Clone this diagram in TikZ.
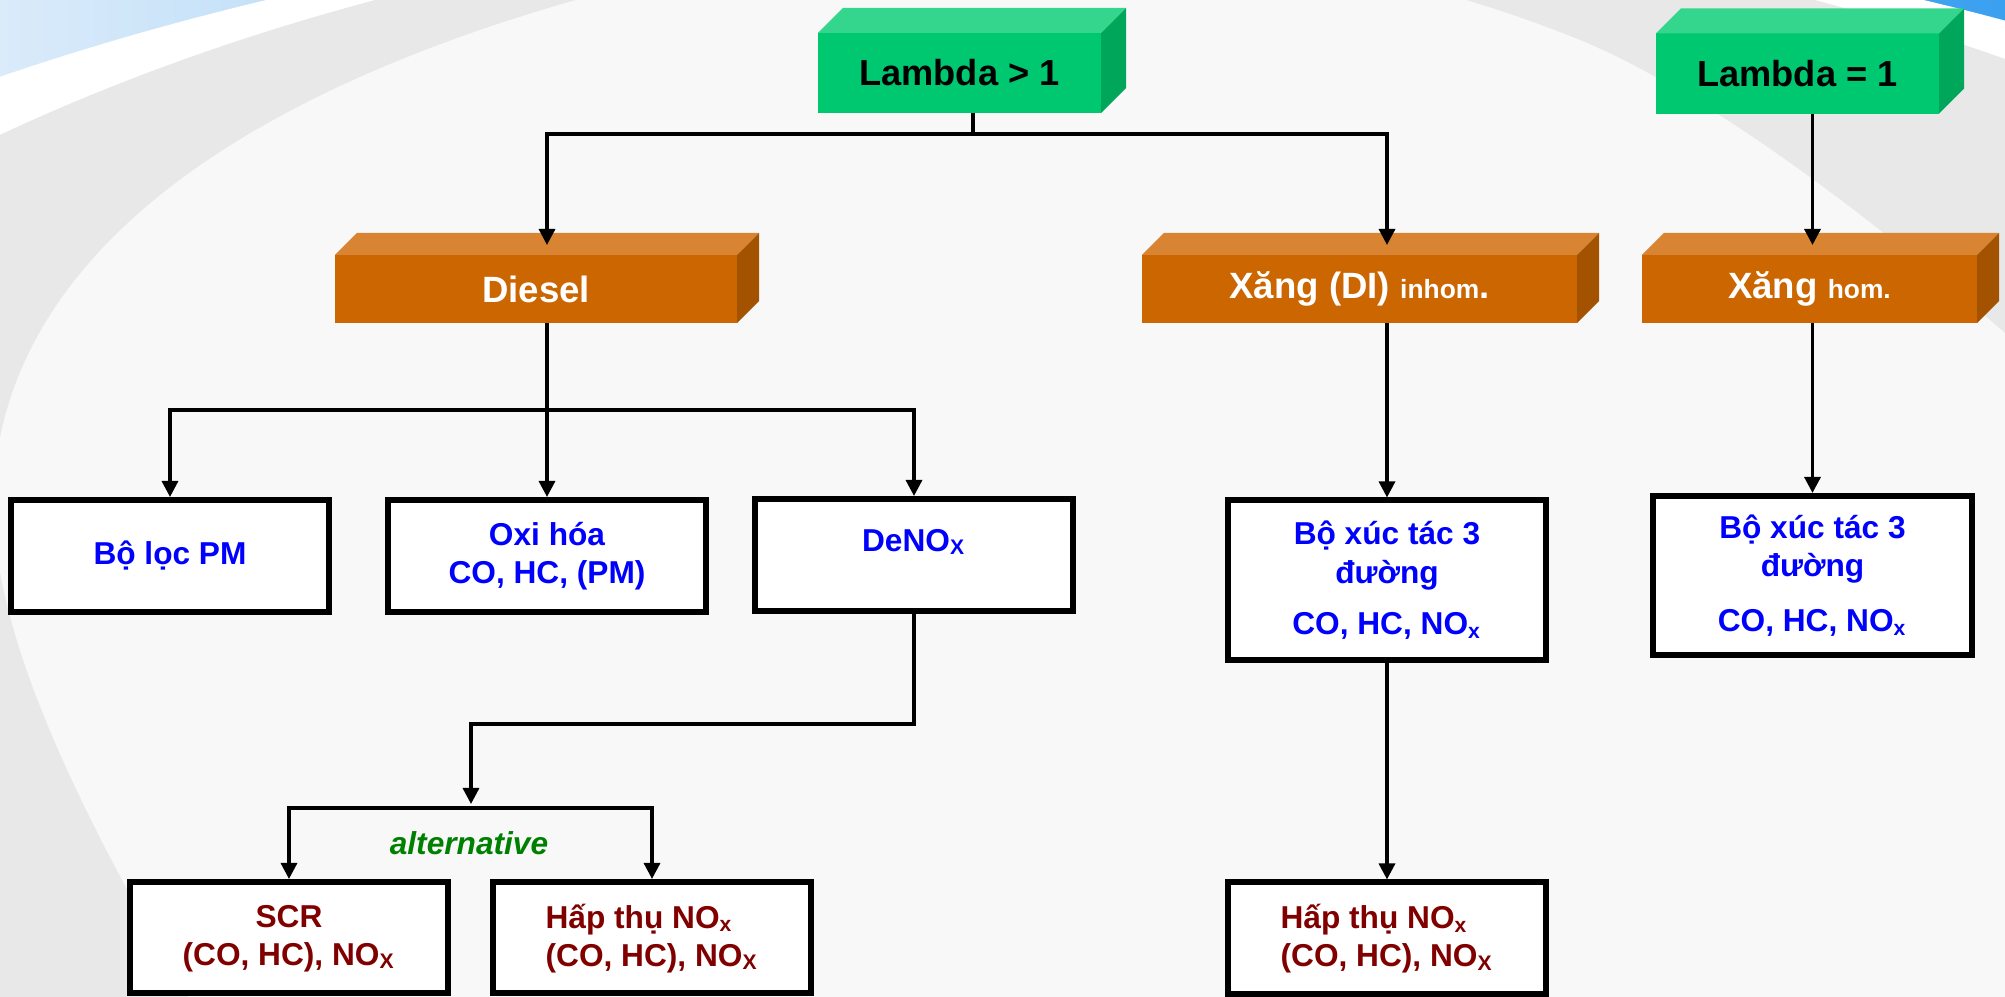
\documentclass[tikz,border=0pt]{standalone}
\usepackage{fontspec}
\setmainfont{Liberation Sans}
\usetikzlibrary{arrows.meta}
\definecolor{paper}{RGB}{248,248,248}
\definecolor{bandgray}{RGB}{232,232,232}
\definecolor{skyfade}{RGB}{218,235,250}
\definecolor{skydeep}{RGB}{58,160,240}
\definecolor{lamfront}{RGB}{0,200,112}
\definecolor{lamtop}{RGB}{51,214,140}
\definecolor{lamside}{RGB}{0,166,90}
\definecolor{fuelfront}{RGB}{204,102,0}
\definecolor{fueltop}{RGB}{216,132,51}
\definecolor{fuelside}{RGB}{163,82,0}
\definecolor{trapred}{RGB}{128,0,0}
\definecolor{altgreen}{RGB}{0,128,0}
\tikzset{
  lambdabox/.style={fill=lamfront, minimum width=2.83cm, minimum height=0.80cm, inner sep=0pt, outer sep=0pt, font=\bfseries\fontsize{10.3}{12}\selectfont},
  fuelbox/.style={fill=fuelfront, text=white, minimum height=0.68cm, inner sep=0pt, outer sep=0pt, font=\bfseries\fontsize{10.4}{12}\selectfont},
  devicebox/.style={draw, line width=0.06cm, fill=white, minimum width=3.18cm, minimum height=1.12cm, inner sep=0pt, align=center, text=blue, font=\bfseries\fontsize{9}{10.8}\selectfont},
  trapbox/.style={devicebox, text=trapred, minimum height=1.11cm, text depth=0.05cm},
  alttext/.style={text=altgreen, font=\bfseries\itshape\fontsize{9}{10.8}\selectfont},
  link/.style={line width=0.033cm, -{Triangle[length=0.16cm,width=0.16cm]}},
  wire/.style={line width=0.033cm}
}
% top and right faces of a slab node: #1 node, #2 depth, #3 top colour, #4 side colour
\newcommand{\slab}[4]{%
  \fill[#3] (#1.north west) -- ++(#2,-#2) -- ([shift={(#2,-#2)}]#1.north east) -- (#1.north east) -- cycle;
  \fill[#4] (#1.north east) -- ++(#2,-#2) -- ([shift={(#2,-#2)}]#1.south east) -- (#1.south east) -- cycle;
}
\newcommand{\little}[1]{{\fontsize{7.5}{9}\selectfont #1}}

\begin{document}
\begin{tikzpicture}[x=0.01cm, y=-0.01cm]
  \useasboundingbox (0,0) rectangle (2005,997);
  % background
  \begin{scope}
    \clip (0,0) rectangle (2005,997);
    \shade[left color=skyfade, right color=skydeep] (0,0) rectangle (2005,997);
    \fill[white] (1095,1000) ellipse [x radius=2040, y radius=1094];
    \fill[bandgray] (1095,1000) ellipse [x radius=1797, y radius=1091];
    \fill[paper] (576,0) .. controls (260,90) and (20,240) .. (-5,470)
      .. controls (-20,600) and (60,780) .. (190,1000) -- (190,1100) -- (2100,1100) -- (2100,380)
      -- (2005,333) .. controls (1850,200) and (1700,90) .. (1580,40)
      .. controls (1480,0) and (1400,-20) .. (1300,-40) -- (576,-100) -- cycle;
  \end{scope}

  % lambda and fuel slabs
  \node[lambdabox] (lgt) at (959.5,73) {Lambda > 1};
  \node[lambdabox] (leq) at (1797.5,73.5) {Lambda = 1};
  \slab{lgt}{25}{lamtop}{lamside}
  \slab{leq}{25}{lamtop}{lamside}

  \node[fuelbox, minimum width=4.02cm] (diesel) at (536,289) {Diesel};
  \node[fuelbox, minimum width=4.35cm] (di) at (1359.5,289) {Xăng (DI) \little{inhom}.};
  \node[fuelbox, minimum width=3.35cm] (hom) at (1809.5,289) {Xăng \little{hom.}};
  \slab{diesel}{22}{fueltop}{fuelside}
  \slab{di}{22}{fueltop}{fuelside}
  \slab{hom}{22}{fueltop}{fuelside}

  % after-treatment boxes
  \node[devicebox] (pm) at (170,556) {Bộ lọc PM};
  \node[devicebox] (oxi) at (547,556) {Oxi hóa\\CO, HC, (PM)};
  \node[devicebox, text depth=0.3cm] (denox) at (914,555) {DeNO\textsubscript{X}};
  \node[devicebox, minimum height=1.59cm, font=\bfseries\fontsize{9}{11.1}\selectfont] (cat3a) at (1387,580) {Bộ xúc tác 3\\đường\\[3.5pt]CO, HC, NO\textsubscript{x}};
  \node[devicebox, minimum height=1.59cm] (cat3b) at (1812.5,575.5) {Bộ xúc tác 3\\đường\\[5pt]CO, HC, NO\textsubscript{x}};

  \node[trapbox] (scr) at (289,937.5) {SCR\\(CO, HC), NO\textsubscript{X}};
  \node[trapbox, align=left] (trapL) at (652,937.5) {Hấp thụ NO\textsubscript{x}\\(CO, HC), NO\textsubscript{X}};
  \node[trapbox, align=left] (trapR) at (1387,938) {Hấp thụ NO\textsubscript{x}\\(CO, HC), NO\textsubscript{X}};
  \node[alttext] (alt) at (469,843) {alternative};

  \coordinate (lgtFoot) at ([shift={(13.5,0)}]lgt.south);
  \coordinate (dieselTop) at ([shift={(11,-10)}]diesel.north);
  \coordinate (diTop) at ([shift={(27.5,-10)}]di.north);
  \coordinate (homTop) at ([shift={(3,-10)}]hom.north);
  \coordinate (split) at (471,808);

  % connectors
  \draw[link] (lgtFoot) -- ++(0,21) -| (dieselTop);
  \draw[link] (lgtFoot) -- ++(0,21) -| (diTop);
  \draw[link] (homTop |- leq.south) -- (homTop);

  \draw[link] (dieselTop |- diesel.south) -- (oxi.north);
  \draw[link] (dieselTop |- diesel.south) -- ++(0,87) -| (pm.north);
  \draw[link] (dieselTop |- diesel.south) -- ++(0,87) -| (denox.north);
  \draw[link] (diTop |- di.south) -- (cat3a.north);
  \draw[link] (homTop |- hom.south) -- (cat3b.north);

  \draw[link, shorten >=0.04cm] (denox.south) -- ++(0,110) -| (split);
  \draw[link] (split) -| (scr.north);
  \draw[link] (split) -| (trapL.north);
  \draw[link] (cat3a.south) -- (trapR.north);
\end{tikzpicture}
\end{document}
